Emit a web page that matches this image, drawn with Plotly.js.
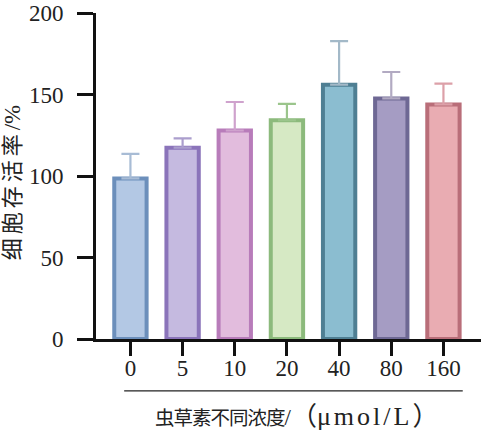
<!DOCTYPE html>
<html>
<head>
<meta charset="utf-8">
<script src="https://cdn.plot.ly/plotly-3.0.1.min.js"></script>
<style>html,body{margin:0;padding:0;background:#fff;}#chart{width:487px;height:430px;}</style>
</head>
<body>
<div id="chart"></div>
<script>
var categories = ["0", "5", "10", "20", "40", "80", "160"];
var values = [98.5, 117.4, 127.9, 134.2, 156.0, 147.6, 143.9];
var errors = [15.1, 5.7, 17.5, 10.0, 26.7, 16.2, 12.8];
var fillColors = ["#b3c8e4", "#c5bae0", "#e2bcdd", "#d6e9c4", "#8bbdd0", "#a59cc3", "#e9acb2"];
var lineColors = ["#6c8fbb", "#8b74ba", "#b87cba", "#8cba7c", "#4f7f93", "#6e6894", "#b96e79"];
var errColors = ["#a8bcd5", "#ab9ecd", "#cfa2cd", "#9bc58c", "#a3b9c8", "#b2aac2", "#dca0a8"];
var yTicks = [0, 50, 100, 150, 200];
var sigLabel = {category: "40", text: "a"};
var xTitleCJK = "虫草素不同浓度";
var xTitleUnit = "μmol/L";
var yTitleCJK = "细胞存活率";
var yTitleUnit = "/%";

var FONT = "Liberation Serif, Noto Sans CJK SC, serif";
var traces = categories.map(function (c, i) {
  return {
    type: "bar",
    x: [c],
    y: [values[i]],
    width: 0.62,
    marker: {color: fillColors[i], line: {color: lineColors[i], width: 4}},
    error_y: {type: "data", array: [errors[i]], arrayminus: [0], symmetric: false,
              color: errColors[i], thickness: 2.2, width: 9},
    hoverinfo: "skip",
    showlegend: false
  };
});

var sigIndex = categories.indexOf(sigLabel.category);
var xTitle = '<span style="font-size:19.5px;letter-spacing:-1px">' + xTitleCJK + '</span>/<span style="font-size:26px">（<span style="letter-spacing:3px">' + xTitleUnit + '</span>）</span>';
var yTitle = '<span style="font-size:22px;letter-spacing:4px">' + yTitleCJK + '</span>' + yTitleUnit;

var layout = {
  width: 487, height: 430,
  margin: {l: 96, r: 6, t: 13, b: 91},
  paper_bgcolor: "#fff", plot_bgcolor: "#fff",
  barmode: "overlay",
  showlegend: false,
  font: {family: FONT, color: "#222", size: 23},
  xaxis: {
    type: "category", categoryorder: "array", categoryarray: categories,
    range: [-0.66, 6.72],
    showline: true, linecolor: "#111", linewidth: 3,
    ticks: "outside", ticklen: 14, tickwidth: 3, tickcolor: "#111",
    showgrid: false, zeroline: false,
    tickfont: {family: FONT, size: 23, color: "#222"},
    ticklabelstandoff: -8
  },
  yaxis: {
    range: [0, 200], tickvals: yTicks, ticktext: yTicks.map(String),
    showline: true, linecolor: "#111", linewidth: 3,
    ticks: "outside", ticklen: 16, tickwidth: 3, tickcolor: "#111",
    showgrid: false, zeroline: false,
    tickfont: {family: FONT, size: 23, color: "#222"},
    ticklabelstandoff: 9
  },
  shapes: [{
    type: "line", xref: "x", yref: "paper",
    x0: -0.12, x1: 6.37, y0: -0.159, y1: -0.159,
    line: {color: "#222", width: 1.2}
  }],
  annotations: [
    {text: sigLabel.text, x: categories[sigIndex], y: values[sigIndex] + errors[sigIndex] + 8,
     xref: "x", yref: "y", showarrow: false, yanchor: "middle",
     font: {family: FONT, size: 22, color: "#222"}},
    {text: xTitle, x: 0.43, xref: "x", xanchor: "left", y: -0.237, yref: "paper",
     showarrow: false, yanchor: "middle", font: {family: FONT, size: 23, color: "#222"}},
    {text: yTitle, x: -0.216, xref: "paper", y: 0.48, yref: "paper",
     showarrow: false, textangle: -90, xanchor: "center", yanchor: "middle",
     font: {family: FONT, size: 23, color: "#222"}}
  ]
};

Plotly.newPlot("chart", traces, layout, {displayModeBar: false, staticPlot: true});
</script>
</body>
</html>
